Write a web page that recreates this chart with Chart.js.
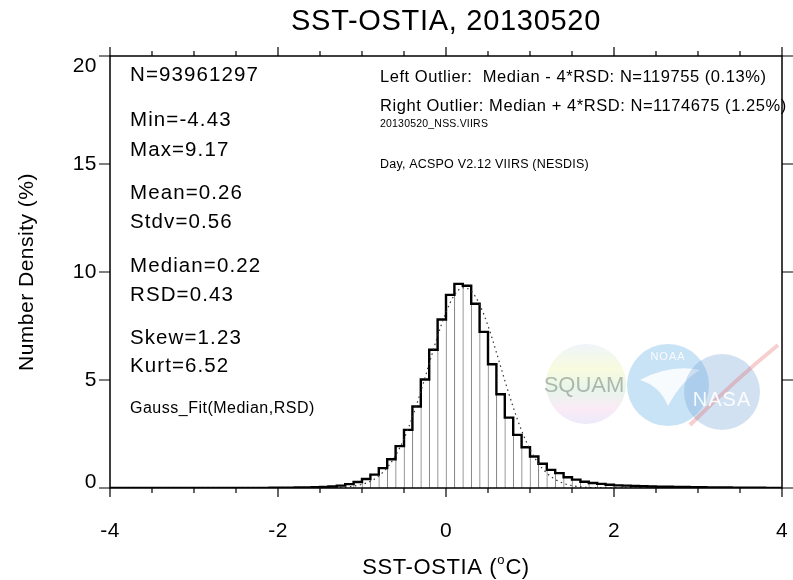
<!DOCTYPE html>
<html>
<head>
<meta charset="utf-8">
<script src="https://cdn.jsdelivr.net/npm/chart.js"></script>
<style>
  html, body { margin: 0; padding: 0; background: #fff; }
  #wrap { width: 793px; height: 580px; }
</style>
</head>
<body>
<div id="wrap"><canvas id="histChart" width="793" height="580"></canvas></div>
<script>
// ---- data ----
const binStart = -4.0;
const binWidth = 0.1;
// number density (%) per 0.1 bin, from -4.0 to 4.0
const density = [
  0.002, 0.002, 0.002, 0.002, 0.002, 0.003, 0.003, 0.003, 0.003, 0.004,
  0.004, 0.004, 0.005, 0.005, 0.005, 0.005, 0.006, 0.007, 0.008, 0.010,
  0.012, 0.015, 0.020, 0.025, 0.035, 0.05, 0.07, 0.11, 0.18, 0.28,
  0.42, 0.62, 0.92, 1.33, 1.94, 2.69, 3.77, 5.02, 6.40, 7.80,
  8.94, 9.45, 9.36, 8.53, 7.23, 5.73, 4.34, 3.26, 2.46, 1.89,
  1.46, 1.12, 0.84, 0.69, 0.50, 0.39, 0.29, 0.23, 0.19, 0.15,
  0.12, 0.11, 0.09, 0.08, 0.07, 0.06, 0.055, 0.05, 0.045, 0.04,
  0.035, 0.03, 0.025, 0.02, 0.018, 0.015, 0.012, 0.010, 0.008, 0.006
];
// dotted Gauss_Fit(Median,RSD) curve
const gaussX = [-4.0, -2.0, -1.5, -1.2, -1.1, -1.0, -0.9, -0.8, -0.7, -0.6, -0.5, -0.4, -0.3, -0.2, -0.1,
  0.0, 0.1, 0.2, 0.3, 0.4, 0.5, 0.6, 0.7, 0.8, 0.9, 1.0, 1.1, 1.2, 1.3, 1.4, 1.5, 1.6, 1.7, 1.8, 2.0, 4.0];
const gaussY = [0, 0.002, 0.003, 0.04, 0.084, 0.17, 0.31, 0.56, 0.94, 1.51, 2.28, 3.28, 4.47, 5.76, 7.03,
  8.14, 8.93, 9.27, 9.12, 8.50, 7.51, 6.28, 4.98, 3.74, 2.66, 1.79, 1.14, 0.69, 0.40, 0.215, 0.11, 0.054, 0.025, 0.011, 0.002, 0];

const xTicks = [-4, -2, 0, 2, 4];
const xMinorStep = 0.5;
const yTicks = [0, 5, 10, 15, 20];

const titleText = 'SST-OSTIA, 20130520';
const yTitle = 'Number Density (%)';
const statsText = ['N=93961297', 'Min=-4.43', 'Max=9.17', 'Mean=0.26', 'Stdv=0.56',
  'Median=0.22', 'RSD=0.43', 'Skew=1.23', 'Kurt=6.52'];
const fitText = 'Gauss_Fit(Median,RSD)';
const outlierText = ['Left Outlier:  Median - 4*RSD: N=119755 (0.13%)',
  'Right Outlier: Median + 4*RSD: N=1174675 (1.25%)'];
const fileText = '20130520_NSS.VIIRS';
const sourceText = 'Day, ACSPO V2.12 VIIRS (NESDIS)';

// ---- layout ----
const statsY = [75, 120, 150, 193, 222, 266, 295, 338, 366];
const FONT = '"Liberation Sans", Arial, Helvetica, sans-serif';

const barPoints = density.map((v, i) => ({ x: binStart + binWidth * (i + 0.5), y: v }));
const stepPoints = density.map((v, i) => ({ x: binStart + binWidth * i, y: v }));
stepPoints.push({ x: binStart + binWidth * density.length, y: density[density.length - 1] });
const gaussPoints = gaussX.map((x, i) => ({ x: x, y: gaussY[i] }));

function txt(ctx, s, x, y, size, align, spacing) {
  ctx.font = size + 'px ' + FONT;
  ctx.textAlign = align || 'left';
  ctx.textBaseline = 'middle';
  ctx.letterSpacing = (spacing || 0) + 'px';
  ctx.fillText(s, x, y);
  ctx.letterSpacing = '0px';
}

const logoPlugin = {
  id: 'logos',
  beforeDatasetsDraw(chart) {
    const ctx = chart.ctx;
    ctx.save();
    // SQUAM globe
    ctx.globalAlpha = 0.3;
    let g = ctx.createLinearGradient(0, 345, 0, 425);
    g.addColorStop(0, '#c8dde8');
    g.addColorStop(0.3, '#e8f090');
    g.addColorStop(0.55, '#a8e0b8');
    g.addColorStop(0.8, '#f0b8e0');
    g.addColorStop(1, '#b8b8f0');
    ctx.fillStyle = g;
    ctx.beginPath(); ctx.arc(586, 384, 40, 0, Math.PI * 2); ctx.fill();
    // NOAA
    ctx.globalAlpha = 0.3;
    ctx.fillStyle = '#4aa0e0';
    ctx.beginPath(); ctx.arc(668, 385, 41, 0, Math.PI * 2); ctx.fill();
    ctx.globalAlpha = 0.85;
    ctx.fillStyle = '#ffffff';
    ctx.beginPath();
    ctx.moveTo(640, 380); ctx.quadraticCurveTo(660, 386, 668, 406);
    ctx.quadraticCurveTo(682, 380, 700, 370);
    ctx.quadraticCurveTo(670, 364, 640, 380);
    ctx.fill();
    // NASA
    ctx.globalAlpha = 0.3;
    ctx.fillStyle = '#6a9ad0';
    ctx.beginPath(); ctx.arc(722, 392, 38, 0, Math.PI * 2); ctx.fill();
    ctx.globalAlpha = 0.25;
    ctx.strokeStyle = '#e04040';
    ctx.lineWidth = 4;
    ctx.beginPath(); ctx.moveTo(690, 425); ctx.quadraticCurveTo(735, 380, 778, 345); ctx.stroke();
    ctx.globalAlpha = 0.4;
    ctx.fillStyle = '#555';
    txt(ctx, 'SQUAM', 584, 386, 22, 'center');
    ctx.globalAlpha = 0.9;
    ctx.fillStyle = '#ffffff';
    txt(ctx, 'NOAA', 668, 357, 11, 'center', 1);
    txt(ctx, 'NASA', 722, 400, 20, 'center', 1);
    ctx.restore();
  }
};

const framePlugin = {
  id: 'frame',
  afterDraw(chart) {
    const ctx = chart.ctx;
    const a = chart.chartArea;
    const xs = chart.scales.x, ys = chart.scales.y;
    ctx.save();
    ctx.strokeStyle = '#000';
    ctx.lineWidth = 1.5;
    ctx.strokeRect(a.left, a.top, a.right - a.left, a.bottom - a.top);
    ctx.lineWidth = 1.2;
    ctx.beginPath();
    for (let v = xs.min; v <= xs.max + 1e-9; v += xMinorStep) {
      const px = xs.getPixelForValue(v);
      const len = xTicks.includes(Math.round(v * 10) / 10) ? 9 : 5;
      ctx.moveTo(px, a.bottom); ctx.lineTo(px, a.bottom + len);
      ctx.moveTo(px, a.top); ctx.lineTo(px, a.top - len);
    }
    yTicks.forEach(v => {
      const py = ys.getPixelForValue(v);
      ctx.moveTo(a.left, py); ctx.lineTo(a.left - 11, py);
      ctx.moveTo(a.right, py); ctx.lineTo(a.right + 11, py);
    });
    ctx.stroke();

    ctx.fillStyle = '#000';
    xTicks.forEach(v => txt(ctx, String(v), xs.getPixelForValue(v), 531, 21, 'center', 0.5));
    yTicks.forEach(v => {
      let py = ys.getPixelForValue(v);
      if (v === ys.max) py += 10;
      if (v === ys.min) py -= 6;
      txt(ctx, String(v), 97, py, 21, 'right', 0.5);
    });

    // titles
    txt(ctx, titleText, 446, 22, 29, 'center', 0.7);
    // x title with superscript o
    const p1 = 'SST-OSTIA (', p2 = 'C)';
    ctx.font = '22px ' + FONT;
    ctx.letterSpacing = '0.6px';
    const w1 = ctx.measureText(p1).width, w2 = ctx.measureText(p2).width;
    ctx.font = '13px ' + FONT;
    ctx.letterSpacing = '0px';
    const wo = ctx.measureText('o').width + 1;
    const x0 = 446 - (w1 + wo + w2) / 2;
    txt(ctx, p1, x0, 568, 22, 'left', 0.6);
    txt(ctx, 'o', x0 + w1, 560, 13, 'left');
    txt(ctx, p2, x0 + w1 + wo, 568, 22, 'left', 0.6);

    ctx.save();
    ctx.translate(27, (a.top + a.bottom) / 2);
    ctx.rotate(-Math.PI / 2);
    txt(ctx, yTitle, 0, 0, 21, 'center', 0.5);
    ctx.restore();

    // statistics block
    statsText.forEach((s, i) => txt(ctx, s, 130, statsY[i], 20.5, 'left', 1.1));
    txt(ctx, fitText, 130, 409, 16, 'left', 0.5);
    txt(ctx, outlierText[0], 380, 77, 16.5, 'left', 0.55);
    txt(ctx, outlierText[1], 380, 106, 16.5, 'left', 0.55);
    txt(ctx, fileText, 380, 124, 10.5, 'left', 0.2);
    txt(ctx, sourceText, 380, 165, 12.5, 'left', 0.2);
    ctx.restore();
  }
};

new Chart(document.getElementById('histChart'), {
  type: 'bar',
  data: {
    datasets: [
      {
        type: 'line',
        label: 'Gauss fit',
        data: gaussPoints,
        borderColor: '#333',
        borderWidth: 1.2,
        borderDash: [1.5, 3.5],
        pointRadius: 0,
        cubicInterpolationMode: 'monotone',
        order: 0
      },
      {
        type: 'line',
        label: 'outline',
        data: stepPoints,
        borderColor: '#000',
        borderWidth: 2.4,
        stepped: 'before',
        pointRadius: 0,
        order: 1
      },
      {
        type: 'bar',
        label: 'density',
        data: barPoints,
        backgroundColor: '#fff',
        borderColor: '#7a7a7a',
        borderWidth: { left: 1, right: 0, top: 0, bottom: 0 },
        borderSkipped: false,
        barPercentage: 1,
        categoryPercentage: 1,
        order: 2
      }
    ]
  },
  options: {
    responsive: false,
    devicePixelRatio: 1,
    animation: false,
    layout: { padding: { left: 110, right: 11, top: 56, bottom: 92 } },
    plugins: {
      legend: { display: false },
      tooltip: { enabled: false },
      title: { display: false }
    },
    scales: {
      x: { type: 'linear', min: -4, max: 4, offset: false, display: false },
      y: { type: 'linear', min: 0, max: 20, display: false }
    }
  },
  plugins: [logoPlugin, framePlugin]
});
</script>
</body>
</html>
